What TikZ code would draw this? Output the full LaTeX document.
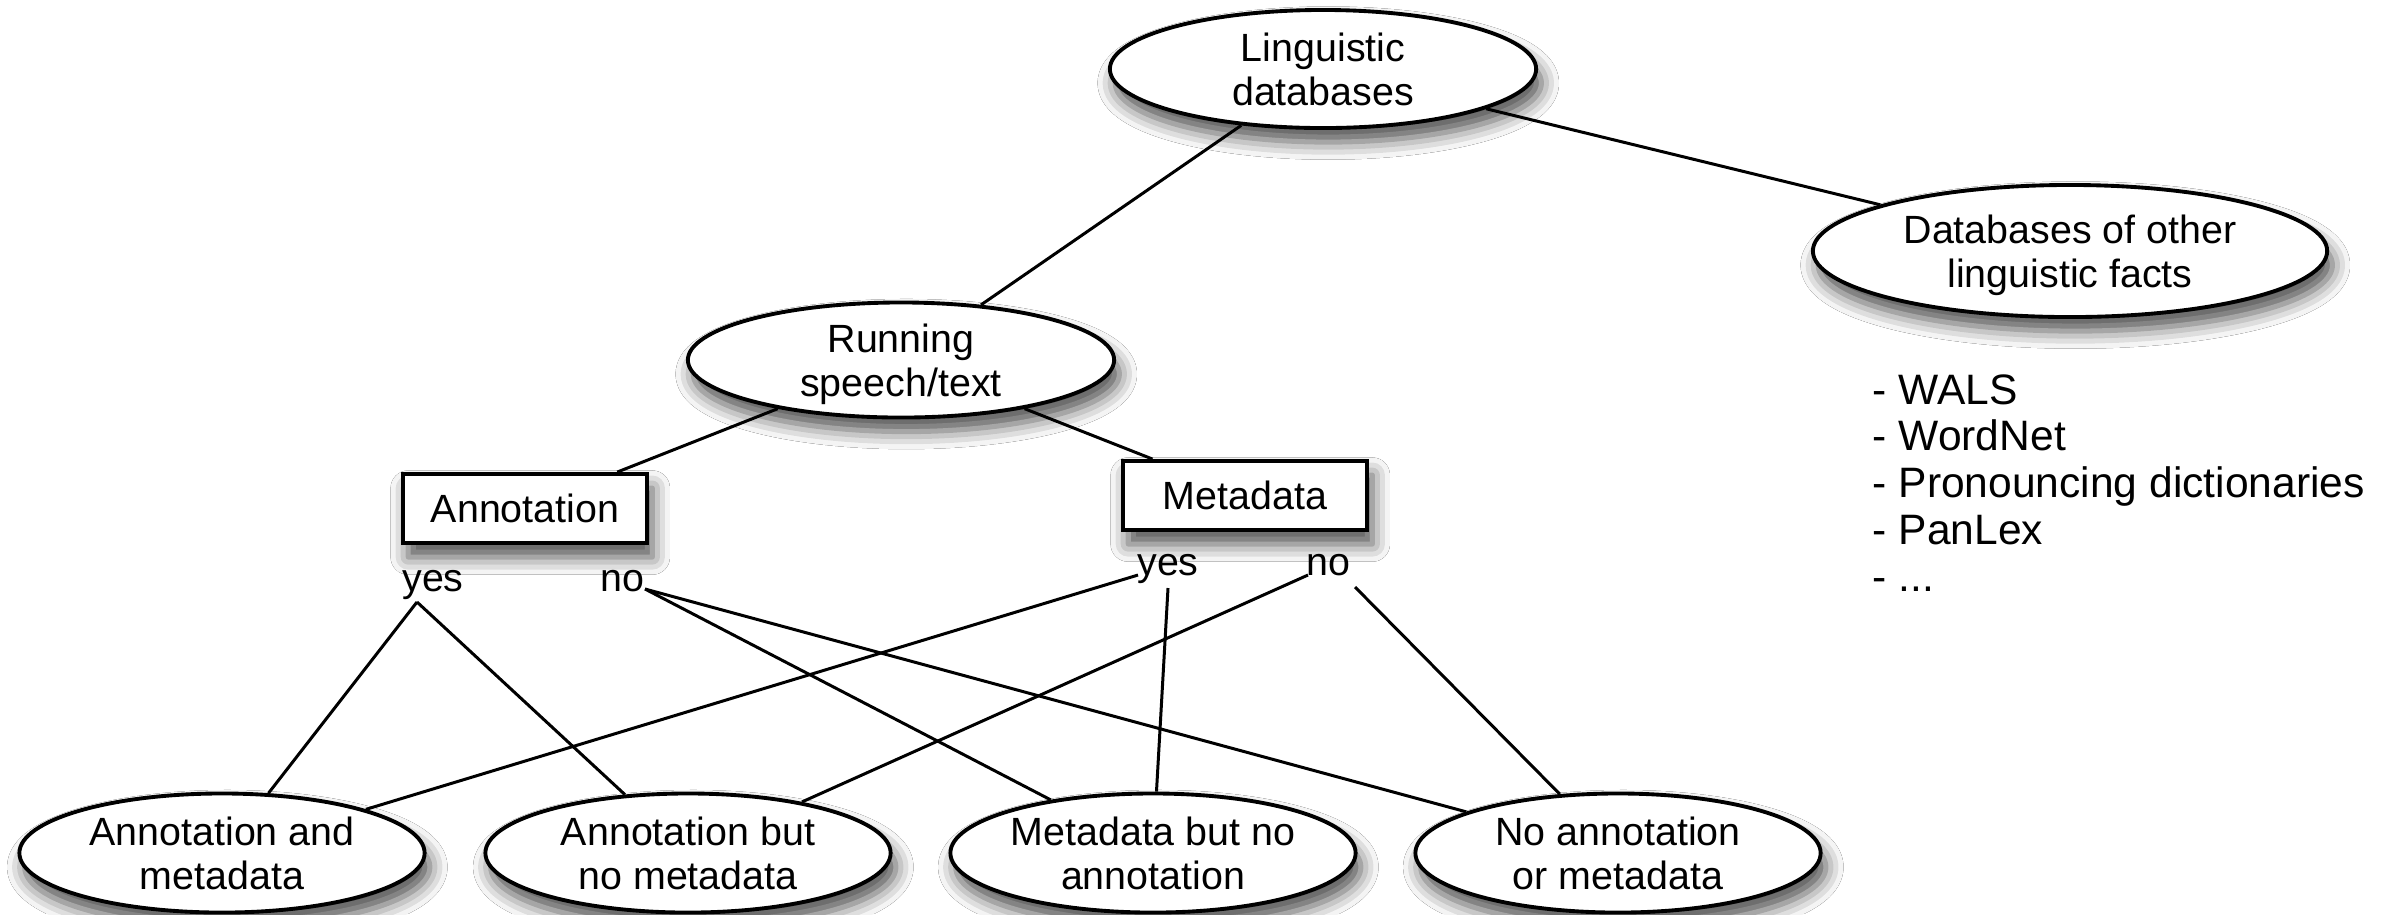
\documentclass[tikz,border=0pt]{standalone}
\usepackage{fontspec}
\setmainfont{Liberation Sans}
\usetikzlibrary{shapes.geometric,shadows.blur}
\newcommand{\twoline}[2]{\makebox[0pt]{\raisebox{-0.36cm}[0pt][0pt]{\begin{tabular}[b]{@{}c@{}}#1\\#2\end{tabular}}}}
\tikzset{
  shad/.style={blur shadow={shadow xshift=1.5pt, shadow yshift=-4pt, shadow blur radius=5pt, shadow opacity=70}},
  ell/.style={ellipse, draw, line width=1.1pt, fill=white, inner sep=0pt, shad},
  box/.style={rectangle, draw, line width=1.1pt, fill=white, minimum width=2.44cm,
    minimum height=0.69cm, inner sep=0pt, shad},
  lab/.style={inner sep=0pt, anchor=base},
  conn/.style={line width=0.85pt},
  listtext/.style={inner sep=0pt, anchor=base west, font=\fontsize{12.1}{13.3}\selectfont}
}
\begin{document}
\begin{tikzpicture}[x=0.01cm, y=-0.01cm, font=\fontsize{11.2}{12.5}\selectfont]
\useasboundingbox (0,0) rectangle (2395,914);
\fill[white] (0,0) rectangle (2395,914);

% top-level nodes
\node[ell, minimum width=4.26cm, minimum height=1.18cm] (ling) at (1323,69) {\twoline{Linguistic}{databases}};
\node[ell, minimum width=5.14cm, minimum height=1.32cm] (other) at (2070,251) {\twoline{Databases of other}{linguistic facts}};
\node[ell, minimum width=4.26cm, minimum height=1.15cm] (run) at (901,360) {\twoline{Running}{speech/text}};
\node[box] (ann) at (525,508.5) {Annotation};
\node[box] (meta) at (1245,495.5) {Metadata};

% yes / no labels
\node[lab] (ay) at (433,591) {yes};
\node[lab] (an) at (622,591) {no};
\node[lab] (my) at (1168,575) {yes};
\node[lab] (mn) at (1328,575) {no};

\coordinate (ayp) at (417,602);
\coordinate (anp) at (645,589);
\coordinate (myp1) at (1138,575);
\coordinate (myp2) at (1168,588);
\coordinate (mnp1) at (1308,575);
\coordinate (mnp2) at (1355,587);

% bottom nodes
\node[ell, minimum width=4.05cm, minimum height=1.19cm] (b1) at (222,853) {\twoline{Annotation and}{metadata}};
\node[ell, minimum width=4.05cm, minimum height=1.19cm] (b2) at (688,853) {\twoline{Annotation but}{no metadata}};
\node[ell, minimum width=4.05cm, minimum height=1.19cm] (b3) at (1153,853) {\twoline{Metadata but no}{annotation}};
\node[ell, minimum width=4.05cm, minimum height=1.19cm] (b4) at (1618,853) {\twoline{No annotation}{or metadata}};

% list
\node[listtext] (list) at (1872,404) {\begin{tabular}[t]{@{}l@{}}- WALS\\- WordNet\\- Pronouncing dictionaries\\- PanLex\\- ...\end{tabular}};

% connectors
\draw[conn] (ling) -- (run);
\draw[conn] (ling) -- (other);
\draw[conn] (run) -- (ann);
\draw[conn] (run) -- (meta);
\draw[conn] (ayp) -- (b1);
\draw[conn] (ayp) -- (b2);
\draw[conn] (anp) -- (b3);
\draw[conn] (anp) -- (b4);
\draw[conn] (myp1) -- (b1);
\draw[conn] (myp2) -- (b3);
\draw[conn] (mnp1) -- (b2);
\draw[conn] (mnp2) -- (b4);
\end{tikzpicture}
\end{document}
